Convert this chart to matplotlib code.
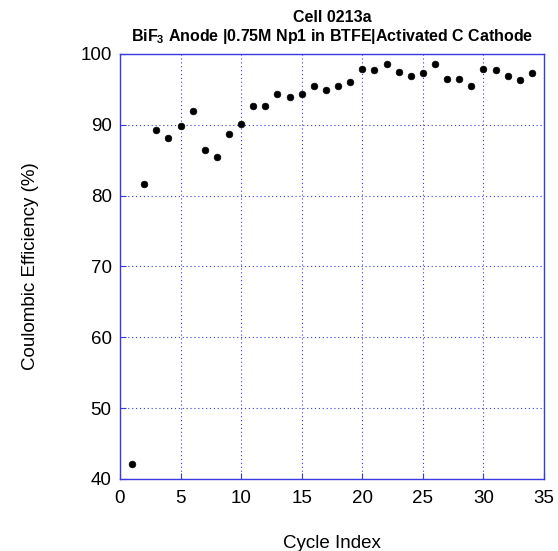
import matplotlib
matplotlib.use("Agg")
import matplotlib.pyplot as plt

plt.rcParams['font.family'] = ['Liberation Sans', 'DejaVu Sans']
plt.rcParams['mathtext.fontset'] = 'custom'
plt.rcParams['mathtext.rm'] = 'Liberation Sans'
plt.rcParams['mathtext.bf'] = 'Liberation Sans:bold'

cycles = list(range(1, 35))
efficiency = [42.1, 81.6, 89.2, 88.1, 89.9, 92.0, 86.5, 85.5, 88.7, 90.1,
              92.7, 92.7, 94.35, 93.9, 94.35, 95.5, 94.9, 95.5, 96.1, 97.9,
              97.8, 98.6, 97.5, 96.9, 97.3, 98.6, 96.5, 96.5, 95.5, 97.9,
              97.7, 96.85, 96.3, 97.3]
xticks = [0, 5, 10, 15, 20, 25, 30, 35]
yticks = [40, 50, 60, 70, 80, 90, 100]

blue = '#3a3ae0'
fig = plt.figure(figsize=(5.58, 5.51), dpi=100)
ax = fig.add_axes([0.215, 0.1307, 0.76, 0.7713])
ax.plot(cycles, efficiency, 'o', color='black', markersize=4.8, markeredgewidth=0.5, zorder=3)
ax.set_xlim(0, 35)
ax.set_ylim(40, 100)
ax.set_xticks(xticks)
ax.set_yticks(yticks)
ax.grid(True, color=blue, linestyle=(0, (1, 2.5)), linewidth=0.8)
for s in ax.spines.values():
    s.set_color(blue)
    s.set_linewidth(1.0)
ax.tick_params(direction='in', colors=blue, labelcolor='black', labelsize=13.5, length=4)
ax.tick_params(axis='x', pad=8)
ax.tick_params(axis='y', pad=6)
ax.set_xlabel('Cycle Index', fontsize=13.5, labelpad=20)
ax.set_ylabel('Coulombic Efficiency (%)', fontsize=13.5, labelpad=30)
ax.set_title('Cell 0213a\nBiF$_{\\mathregular{3}}$ Anode |0.75M Np1 in BTFE|Activated C Cathode',
             fontsize=11.5, fontweight='bold', pad=9, linespacing=1.2)
fig.savefig('out.png', dpi=100)
